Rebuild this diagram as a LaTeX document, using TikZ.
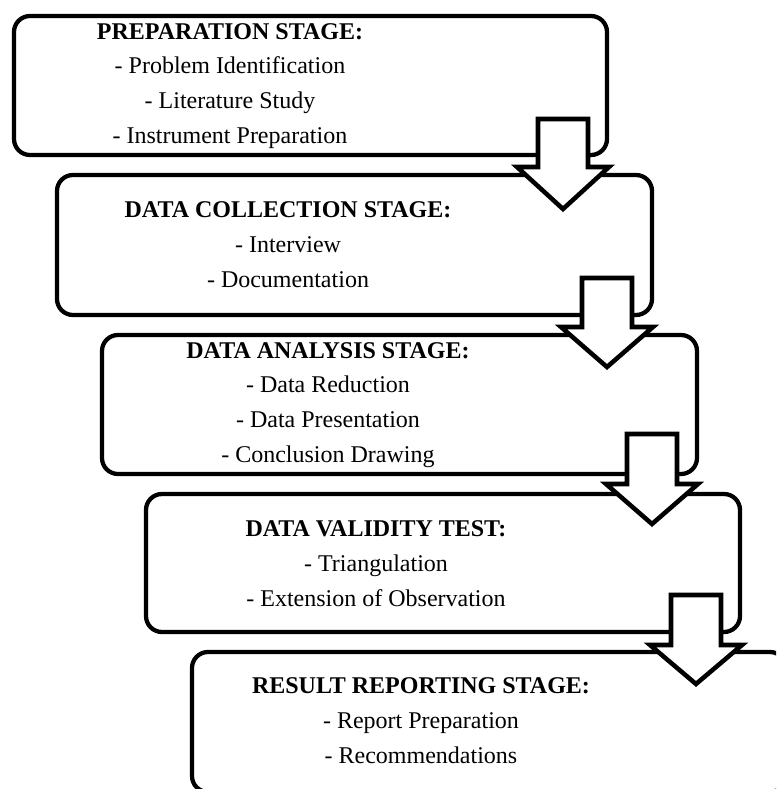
\documentclass[tikz,border=0pt]{standalone}
\usepackage{fontspec}
\setmainfont{Liberation Serif}
\begin{document}
\begin{tikzpicture}[x=0.75pt, y=-0.75pt,
        stagebox/.style={black, line width=3.2pt, rounded corners=12pt},
        stagetext/.style={anchor=base, align=center, inner sep=0pt, font=\fontsize{18}{25.9}\selectfont},
        stagearrow/.style={draw=black, fill=white, line width=3.4pt}] %5 stages
            \clip (0,0) rectangle (776,789);

            \draw[stagebox] (14,16) rectangle (607,155);
            \draw[stagebox] (57,175) rectangle (652,315);
            \draw[stagebox] (102,335) rectangle (697,474);
            \draw[stagebox] (146,494) rectangle (740,632);
            \draw[stagebox] (192,652) rectangle (786,792);

            % base = last line
            \node[stagetext] (prep) at (230,143) {\textbf{PREPARATION STAGE:}\\- Problem Identification\\- Literature Study\\- Instrument Preparation};
            \node[stagetext] (collect) at (288,287) {\textbf{DATA COLLECTION STAGE:}\\- Interview\\- Documentation};
            \node[stagetext] (analysis) at (328,462) {\textbf{DATA ANALYSIS STAGE:}\\- Data Reduction\\- Data Presentation\\- Conclusion Drawing};
            \node[stagetext] (validity) at (376,606) {\textbf{DATA VALIDITY TEST:}\\- Triangulation\\- Extension of Observation};
            \node[stagetext] (report) at (421,763) {\textbf{RESULT REPORTING STAGE:}\\- Report Preparation\\- Recommendations};

            \filldraw[stagearrow] (538,119) -- (588,119) -- (588,167) -- (609,167) -- (563,209) -- (517,167) -- (538,167) -- cycle;
            \filldraw[stagearrow] (582,278) -- (632,278) -- (632,327) -- (653,327) -- (607,367) -- (561,327) -- (582,327) -- cycle;
            \filldraw[stagearrow] (627,434) -- (677,434) -- (677,484) -- (698,484) -- (652,524) -- (606,484) -- (627,484) -- cycle;
            \filldraw[stagearrow] (671,595) -- (721,595) -- (721,645) -- (742,645) -- (696,684) -- (650,645) -- (671,645) -- cycle;
\end{tikzpicture}
\end{document}
